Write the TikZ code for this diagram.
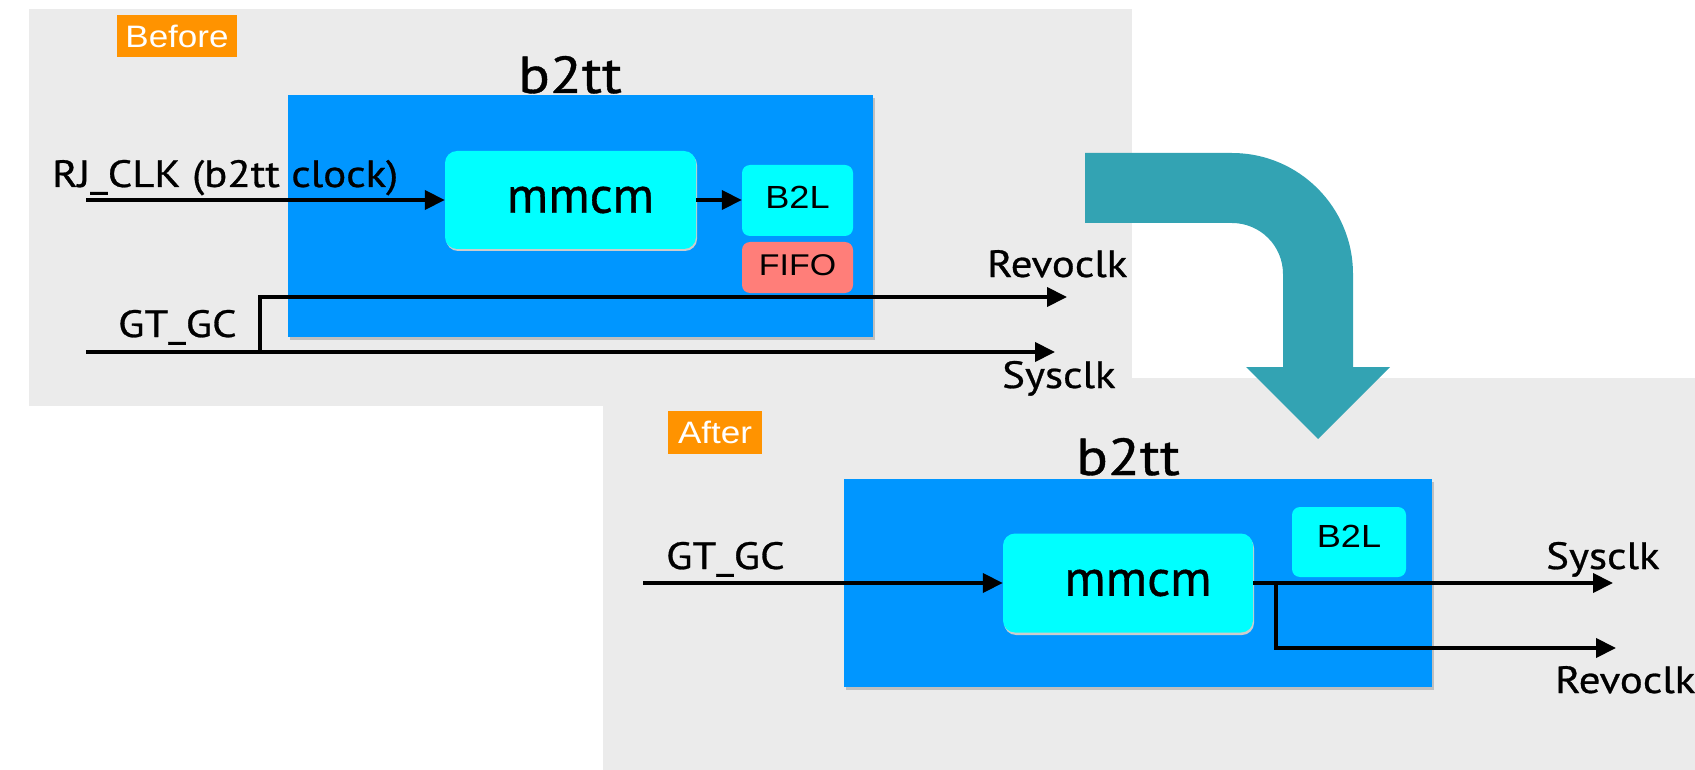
\documentclass[tikz,border=0pt]{standalone}
\usepackage{fontspec}
\setmainfont{PT Sans}[FakeBold=0.7]
\newfontfamily\arialf{Liberation Sans}
\usetikzlibrary{arrows.meta}
\definecolor{panelgray}{RGB}{235,235,235}
\definecolor{chipblue}{RGB}{0,150,255}
\definecolor{mmcmcyan}{RGB}{0,255,255}
\definecolor{fifored}{RGB}{255,126,121}
\definecolor{tagorange}{RGB}{255,147,0}
\definecolor{bigteal}{RGB}{51,163,179}
\newcommand{\sx}[1]{\scalebox{1.13}[1]{#1}}
\begin{document}
\begin{tikzpicture}[x=1pt,y=-1pt,
  chip/.style={fill=chipblue, inner sep=0pt},
  blk/.style={fill=mmcmcyan, rounded corners=12pt, inner sep=0pt, font=\fontsize{51}{60}\selectfont},
  small/.style={rounded corners=8pt, inner sep=0pt, font=\arialf\fontsize{32}{38}\selectfont},
  tag/.style={fill=tagorange, text=white, inner sep=0pt, font=\arialf\fontsize{31}{37}\selectfont},
  title/.style={anchor=base, inner sep=0pt, font=\fontsize{52}{60}\selectfont},
  lbl/.style={anchor=base west, inner sep=0pt, font=\fontsize{38}{46}\selectfont},
  sig/.style={line width=4pt, -{Triangle[length=20pt,width=19pt]}}
]
\useasboundingbox (0,0) rectangle (1695,770);
% panels
\fill[panelgray] (29,9) rectangle (1132,406);
\fill[panelgray] (603,378) rectangle (1695,770);

% ---------- Before ----------
\node[tag, minimum width=120pt, minimum height=42pt] (tagB) at (177,36) {\sx{Before}};
\node[title] (titleB) at (570,93) {\sx{b2tt}};
\fill[black!25] (290,98) rectangle (875,340);
\node[chip, minimum width=585pt, minimum height=242pt] (blueB) at (580.5,216) {};
\fill[black!20, rounded corners=12pt] (446,153) rectangle (697,251);
\node[blk, minimum width=251pt, minimum height=98pt] (mmcmB) at (570.5,200) {\hspace*{20pt}\raisebox{-2pt}{mmcm}};
\node[small, fill=mmcmcyan, minimum width=111pt, minimum height=71pt] (b2lB) at (797.5,200.5) {\raisebox{7pt}{\sx{B2L}}};
\node[small, fill=fifored, minimum width=111pt, minimum height=51pt, font=\arialf\fontsize{30}{36}\selectfont] (fifoB) at (797.5,267.5) {\raisebox{5pt}{\sx{FIFO}}};

\coordinate (rjS) at (86,200);
\draw[sig] (rjS) -- (mmcmB.west);
\draw[sig] (mmcmB.east) -- (mmcmB.east -| b2lB.west);

\coordinate (gtS) at (86,352);
\coordinate (gtJ) at (259.5,352);
\coordinate (gtT) at (259.5,297);
\coordinate (revoE) at (1067,297);
\coordinate (sysE) at (1055,352);
\draw[sig] (gtS) -- (sysE);
\draw[sig] (gtJ) -- (gtT) -- (revoE);

\node[lbl] (rjL) at (52,187) {\sx{RJ\_CLK (b2tt clock)}};
\node[lbl] (gtL) at (118,337) {\sx{GT\_GC}};
\node[lbl] (revoL) at (987,277) {\sx{Revoclk}};
\node[lbl] (sysL) at (1002,388) {\sx{Sysclk}};

% ---------- big arrow ----------
\fill[bigteal] (1085,153) -- (1232,153) arc[start angle=-90, end angle=0, radius=121]
  -- (1353,367) -- (1390,367) -- (1318,439) -- (1246,367) -- (1283,367)
  -- (1283,274) arc[start angle=0, end angle=-90, radius=51]
  -- (1085,223) -- cycle;

% ---------- After ----------
\node[tag, minimum width=94pt, minimum height=43pt] (tagA) at (715,432.5) {\sx{After}};
\node[title] (titleA) at (1128,475) {\sx{b2tt}};
\fill[black!25] (846,482) rectangle (1434,690);
\node[chip, minimum width=588pt, minimum height=208pt] (blueA) at (1138,583) {};
\fill[black!20, rounded corners=12pt] (1004,536) rectangle (1254,635);
\node[blk, minimum width=250pt, minimum height=99pt] (mmcmA) at (1128,583) {\hspace*{20pt}\raisebox{-2pt}{mmcm}};
\node[small, fill=mmcmcyan, minimum width=114pt, minimum height=70pt] (b2lA) at (1349,542) {\raisebox{11pt}{\sx{B2L}}};

\coordinate (gtA) at (643,583);
\coordinate (sysA) at (1613,583);
\coordinate (brA) at (1276,583);
\coordinate (brB) at (1276,648);
\coordinate (revoA) at (1616,648);
\draw[sig] (gtA) -- (mmcmA.west);
\draw[sig] (mmcmA.east) -- (sysA);
\draw[sig] (brA) -- (brB) -- (revoA);

\node[lbl] (gtLA) at (666,569) {\sx{GT\_GC}};
\node[lbl] (sysLA) at (1546,569) {\sx{Sysclk}};
\node[lbl] (revoLA) at (1555,693) {\sx{Revoclk}};
\end{tikzpicture}
\end{document}
